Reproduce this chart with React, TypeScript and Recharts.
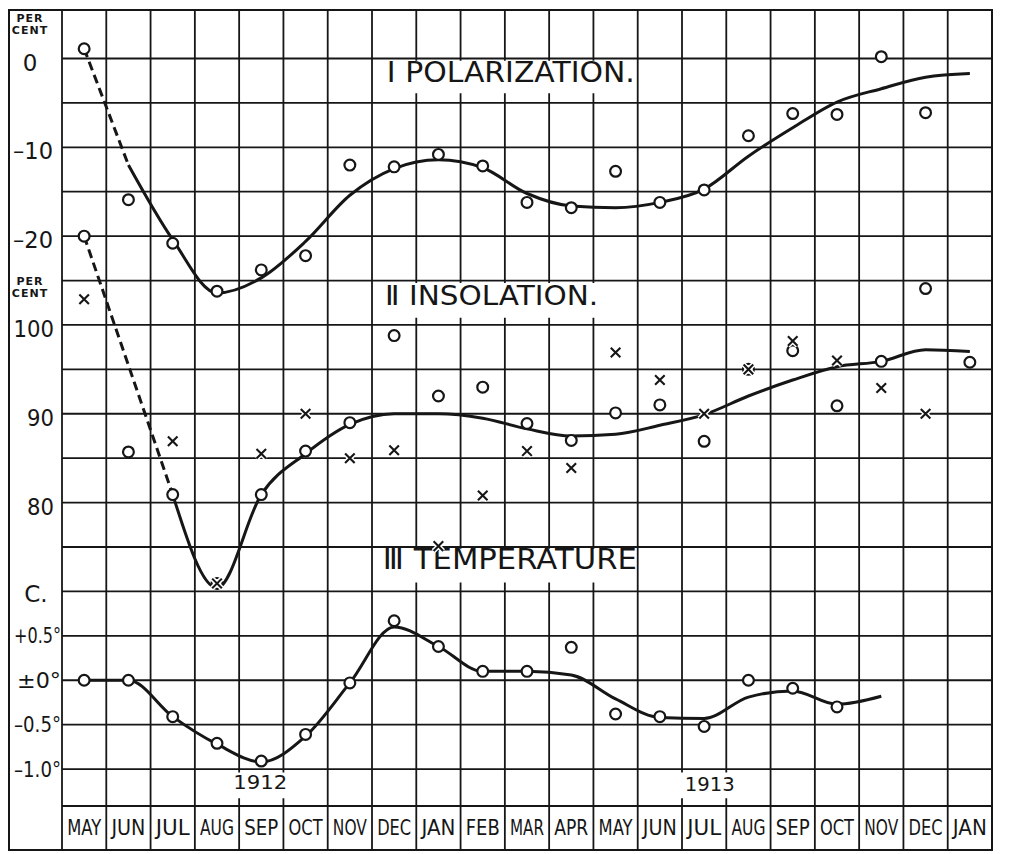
import {
    ComposedChart,
    XAxis,
    YAxis,
    CartesianGrid,
    Line,
    Scatter,
    ReferenceArea,
    ReferenceLine,
} from 'recharts';

// months May 1912 .. Jan 1914, one column each
const MONTHS = ['MAY', 'JUN', 'JUL', 'AUG', 'SEP', 'OCT', 'NOV', 'DEC', 'JAN', 'FEB', 'MAR', 'APR',
    'MAY', 'JUN', 'JUL', 'AUG', 'SEP', 'OCT', 'NOV', 'DEC', 'JAN'];

// I polarization, per cent
const POL_OBS = [1.1, -15.9, -20.8, -26.2, -23.8, -22.2, -12.0, -12.2, -10.8, -12.1, -16.2, -16.8,
    -12.7, -16.2, -14.8, -8.7, -6.2, -6.3, 0.2, -6.1, null];
const POL_FIT = [null, -12.0, -20.4, -26.4, -24.7, -20.6, -15.4, -12.4, -11.4, -12.3, -15.2, -16.6,
    -16.8, -16.2, -14.7, -11.0, -7.8, -4.9, -3.4, -2.1, -1.7];
const POL_DASH = [1.1, -12.0, null, null, null, null, null, null, null, null, null, null,
    null, null, null, null, null, null, null, null, null];

// II insolation, per cent
const INS_OBS = [110.0, 85.7, 80.9, 70.9, 80.9, 85.8, 89.0, 98.8, 92.0, 93.0, 88.9, 87.0,
    90.1, 91.0, 86.9, 95.0, 97.1, 90.9, 95.9, 104.1, 95.8];
const INS_CROSS = [102.9, null, 86.9, 70.9, 85.5, 90.0, 85.0, 85.9, 75.1, 80.8, 85.8, 83.9,
    96.9, 93.8, 90.0, 95.0, 98.2, 96.0, 92.9, 90.0, null];
const INS_FIT = [null, null, 80.9, 70.4, 80.9, 85.5, 88.8, 90.0, 90.0, 89.5, 88.3, 87.5,
    87.7, 88.7, 89.9, 92.0, 93.8, 95.3, 95.9, 97.2, 97.0];
const INS_DASH = [110.0, null, 80.9, null, null, null, null, null, null, null, null, null,
    null, null, null, null, null, null, null, null, null];

// III temperature, deg C
const TEMP_OBS = [0.0, 0.0, -0.41, -0.71, -0.91, -0.61, -0.03, 0.67, 0.38, 0.1, 0.1, 0.37,
    -0.38, -0.41, -0.52, 0.0, -0.09, -0.3, null, null, null];
const TEMP_FIT = [0.0, 0.0, -0.41, -0.72, -0.92, -0.63, -0.03, 0.6, 0.38, 0.1, 0.1, 0.06,
    -0.21, -0.42, -0.43, -0.19, -0.12, -0.27, -0.18, null, null];

// axis ticks / labels
const COLUMN_EDGES = [0, 1, 2, 3, 4, 5, 6, 7, 8, 9, 10, 11, 12, 13, 14, 15, 16, 17, 18, 19, 20, 21];
const POL_GRID = [0, -5, -10, -15, -20, -25, -30, -35, -40, -45, -50, -55, -60, -65, -70, -75, -80];
const POL_TICKS = [0, -10, -20];
const POL_TICK_LABELS = ['0', '–10', '–20'];
const INS_TICKS = [100, 90, 80];
const INS_TICK_LABELS = ['100', '90', '80'];
const TEMP_TICKS = [0.5, 0, -0.5, -1.0];
const TEMP_TICK_LABELS = ['+0.5°', '±0°', '–0.5°', '–1.0°'];

// the three panels share one grid, so the domains are offsets of each other
const POL_DOMAIN = [-84.16, 5.46];
const INS_DOMAIN = [45.84, 135.46];
const TEMP_DOMAIN = [-1.416, 7.546];

const INK = '#161616';
const FONT = '"DejaVu Sans", sans-serif';

const toPoints = (vals: (number | null)[]) =>
    vals.flatMap((v, i) => (v == null ? [] : [{ x: i + 0.5, v }]));

const OpenCircle = (p: any) => (
    <circle cx={p.cx} cy={p.cy} r={5.4} fill="#fff" stroke={INK} strokeWidth={2.2} />
);

const Cross = (p: any) => {
    const s = 4.8;
    const d = `M${p.cx - s},${p.cy - s}L${p.cx + s},${p.cy + s}M${p.cx + s},${p.cy - s}L${p.cx - s},${p.cy + s}`;
    return (
        <g>
            <path d={d} stroke="#fff" strokeWidth={5} />
            <path d={d} stroke={INK} strokeWidth={2.1} />
        </g>
    );
};

const MonthTick = ({ x, y, payload }: any) => (
    <text
        x={x}
        y={y + 21}
        textAnchor="middle"
        dominantBaseline="central"
        fontSize={21}
        fontFamily={FONT}
        fill={INK}
        textLength={34}
        lengthAdjust="spacingAndGlyphs"
    >
        {MONTHS[Math.floor(payload.value)]}
    </text>
);

// text centred in a white box that breaks the grid
const BoxText = (props: any) => {
    const vb = props.viewBox ?? props;
    const { text, size, length, dx = 0, dy = 0 } = props;
    return (
        <text
            x={vb.x + vb.width / 2 + dx}
            y={vb.y + vb.height / 2 + dy}
            textAnchor="middle"
            dominantBaseline="central"
            fontSize={size}
            fontFamily={FONT}
            fill={INK}
            textLength={length}
            lengthAdjust="spacingAndGlyphs"
        >
            {text}
        </text>
    );
};

// labels in the left column, hung on a reference line of the right scale
const SideLabel = (props: any) => {
    const vb = props.viewBox ?? { x: 0, y: 0 };
    const { text, lines, dx = -8, dy = 0, anchor = 'end', size = 23, length } = props;
    if (lines) {
        return (
            <text x={vb.x + dx} y={vb.y + dy} textAnchor={anchor} fontSize={size} fontFamily={FONT}
                fontWeight="bold" fill={INK} letterSpacing={1}>
                {lines.map((l: string, i: number) => (
                    <tspan key={l} x={vb.x + dx} dy={i === 0 ? 0 : size + 1}>{l}</tspan>
                ))}
            </text>
        );
    }
    return (
        <text x={vb.x + dx} y={vb.y + dy} textAnchor={anchor} dominantBaseline="central" fontSize={size}
            fontFamily={FONT} fill={INK} textLength={length} lengthAdjust="spacingAndGlyphs">
            {text}
        </text>
    );
};

export default function App() {
    const lineProps = {
        xAxisId: 'grid',
        dataKey: 'v',
        type: 'monotone' as const,
        stroke: INK,
        strokeWidth: 3,
        dot: false,
        activeDot: false,
        isAnimationActive: false,
    };

    return (
        <div style={{ position: 'relative', width: 1000, height: 846, background: '#fff' }}>
            <div style={{ position: 'absolute', left: 0, top: 0 }}>
                <ComposedChart width={1000} height={846} margin={{ top: 2, right: 16, bottom: 4, left: 54 }}>
                    <XAxis
                        xAxisId="grid"
                        dataKey="x"
                        type="number"
                        domain={[0, 21]}
                        ticks={COLUMN_EDGES}
                        interval={0}
                        allowDataOverflow
                        height={1}
                        tickSize={44}
                        tickFormatter={() => ''}
                        axisLine={{ stroke: INK, strokeWidth: 1.8 }}
                        tickLine={{ stroke: INK, strokeWidth: 1.8 }}
                    />
                    <XAxis
                        xAxisId="month"
                        dataKey="x"
                        type="number"
                        domain={[0, 21]}
                        ticks={MONTHS.map((_, i) => i + 0.5)}
                        interval={0}
                        allowDataOverflow
                        height={43}
                        tickSize={0}
                        tickMargin={0}
                        axisLine={false}
                        tickLine={false}
                        tick={<MonthTick />}
                    />
                    <YAxis yAxisId="pol" type="number" domain={POL_DOMAIN} ticks={POL_GRID} interval={0} allowDataOverflow hide />
                    <YAxis yAxisId="ins" type="number" domain={INS_DOMAIN} allowDataOverflow hide />
                    <YAxis yAxisId="temp" type="number" domain={TEMP_DOMAIN} allowDataOverflow hide />

                    <CartesianGrid xAxisId="grid" yAxisId="pol" stroke={INK} strokeWidth={1.8} />

                    {/* white boxes with the panel titles and years */}
                    <ReferenceArea xAxisId="grid" yAxisId="pol" x1={7.04} x2={12.96} y1={-0.25} y2={-3.9}
                        fill="#fff" fillOpacity={1} stroke="none"
                        label={<BoxText text="Ⅰ POLARIZATION." size={28} length={248} dx={6} dy={-4.7} />} />
                    <ReferenceArea xAxisId="grid" yAxisId="ins" x1={7.04} x2={12.7} y1={104.72} y2={100.8}
                        fill="#fff" fillOpacity={1} stroke="none"
                        label={<BoxText text="Ⅱ INSOLATION." size={27} length={213} dx={-7.5} dy={-5} />} />
                    <ReferenceArea xAxisId="grid" yAxisId="temp" x1={7.04} x2={12.96} y1={1.48} y2={1.1}
                        fill="#fff" fillOpacity={1} stroke="none"
                        label={<BoxText text="Ⅲ TEMPERATURE" size={29} length={254} dx={5} dy={-6.5} />} />
                    <ReferenceArea xAxisId="grid" yAxisId="temp" x1={3.8} x2={5.2} y1={-1.04} y2={-1.33}
                        fill="#fff" fillOpacity={1} stroke="none"
                        label={<BoxText text="1912" size={20} length={54} dx={-1} dy={-3.6} />} />
                    <ReferenceArea xAxisId="grid" yAxisId="temp" x1={13.95} x2={15.3} y1={-1.04} y2={-1.33}
                        fill="#fff" fillOpacity={1} stroke="none"
                        label={<BoxText text="1913" size={20} length={50} dx={0} dy={-1.6} />} />

                    {/* left column: units and scale figures */}
                    <ReferenceLine xAxisId="grid" yAxisId="pol" y={4.1} stroke="none"
                        label={<SideLabel lines={['PER', 'CENT']} size={11} anchor="middle" dx={-32} />} />
                    <ReferenceLine xAxisId="grid" yAxisId="ins" y={105} stroke="none"
                        label={<SideLabel lines={['PER', 'CENT']} size={11} anchor="middle" dx={-32} dy={4} />} />
                    <ReferenceLine xAxisId="grid" yAxisId="temp" y={1.0} stroke="none"
                        label={<SideLabel text="C." anchor="middle" dx={-26} dy={3} />} />
                    {POL_TICKS.map((t, i) => (
                        <ReferenceLine key={`p${t}`} xAxisId="grid" yAxisId="pol" y={t} stroke="none"
                            label={t === 0
                                ? <SideLabel text={POL_TICK_LABELS[i]} anchor="middle" dx={-32} dy={5} />
                                : <SideLabel text={POL_TICK_LABELS[i]} dx={-9} dy={4} length={40} />} />
                    ))}
                    {INS_TICKS.map((t, i) => (
                        <ReferenceLine key={`i${t}`} xAxisId="grid" yAxisId="ins" y={t} stroke="none"
                            label={<SideLabel text={INS_TICK_LABELS[i]} dx={-8} dy={4.5}
                                length={INS_TICK_LABELS[i].length * 13.5} />} />
                    ))}
                    {TEMP_TICKS.map((t, i) => (
                        <ReferenceLine key={`t${t}`} xAxisId="grid" yAxisId="temp" y={t} stroke="none"
                            label={<SideLabel text={TEMP_TICK_LABELS[i]} dx={-1} dy={0} size={22}
                                length={TEMP_TICK_LABELS[i].length > 3 ? 47 : 44} />} />
                    ))}

                    {/* fitted curves */}
                    <Line {...lineProps} yAxisId="pol" data={toPoints(POL_DASH)} type="linear" strokeDasharray="9 5" />
                    <Line {...lineProps} yAxisId="pol" data={toPoints(POL_FIT)} />
                    <Line {...lineProps} yAxisId="ins" data={toPoints(INS_DASH)} type="linear" strokeDasharray="9 5" />
                    <Line {...lineProps} yAxisId="ins" data={toPoints(INS_FIT)} />
                    <Line {...lineProps} yAxisId="temp" data={toPoints(TEMP_FIT)} />

                    {/* observations */}
                    <Scatter xAxisId="grid" yAxisId="pol" data={toPoints(POL_OBS)} dataKey="v" shape={OpenCircle} isAnimationActive={false} />
                    <Scatter xAxisId="grid" yAxisId="ins" data={toPoints(INS_OBS)} dataKey="v" shape={OpenCircle} isAnimationActive={false} />
                    <Scatter xAxisId="grid" yAxisId="ins" data={toPoints(INS_CROSS)} dataKey="v" shape={Cross} isAnimationActive={false} />
                    <Scatter xAxisId="grid" yAxisId="temp" data={toPoints(TEMP_OBS)} dataKey="v" shape={OpenCircle} isAnimationActive={false} />
                </ComposedChart>
            </div>
            <div
                style={{
                    position: 'absolute',
                    left: 0,
                    top: 1,
                    width: 985,
                    height: 842,
                    border: `2px solid ${INK}`,
                    boxSizing: 'border-box',
                    pointerEvents: 'none',
                }}
            />
        </div>
    );
}
